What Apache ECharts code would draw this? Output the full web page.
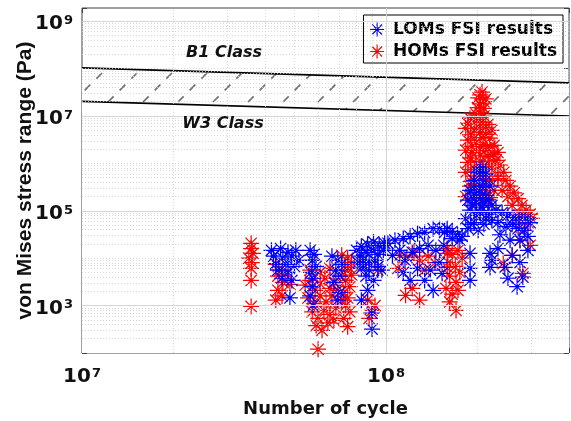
<!DOCTYPE html>
<html><head><meta charset="utf-8">
<script src="https://cdn.jsdelivr.net/npm/echarts@6/dist/echarts.min.js"></script>
<style>html,body{margin:0;padding:0;background:#fff}#c{width:571px;height:421px}</style>
</head><body><div id="c"></div>
<script>
// ---- data (Number of cycle, von Mises stress range in Pa) ----
const lomsData = [
[4.2e7,1.47e4],[4.5e7,1.6e4],[4.76e7,1.33e4],[5.05e7,1.47e4],[4.27e7,1.1e4],[4.58e7,1.0e4],[4.9e7,1.1e4],[5.17e7,9.0e3],[4.34e7,7.7e3],[4.69e7,7.4e3],[5.0e7,6.7e3],[4.41e7,5.6e3],[4.76e7,5.0e3],[4.55e7,3.8e3],[4.9e7,3.4e3],[4.83e7,1.45e3],
[5.63e7,1.47e4],[5.8e7,1.2e4],[5.72e7,9.0e3],[5.89e7,6.7e3],[5.67e7,5.0e3],[5.76e7,3.8e3],[5.72e7,2.5e3],[5.63e7,1.6e3],[5.76e7,1.0e3],
[6.64e7,1.1e4],[6.94e7,9.0e3],[7.15e7,7.4e3],[6.84e7,5.6e3],[7.05e7,4.2e3],[6.74e7,3.1e3],[7.05e7,1.9e3],[6.94e7,1.3e3],
[8.0e7,1.47e4],[8.3e7,1.78e4],[8.7e7,1.97e4],[9.1e7,2.2e4],[9.5e7,1.87e4],[8.2e7,1.1e4],[8.6e7,1.33e4],[9.0e7,1.47e4],[9.4e7,1.2e4],[9.8e7,1.47e4],[8.1e7,8.1e3],[8.4e7,9.0e3],[8.8e7,8.1e3],[9.2e7,9.0e3],[8.3e7,6.1e3],[8.8e7,5.6e3],[9.4e7,6.7e3],[8.6e7,4.2e3],[9.1e7,3.4e3],[9.7e7,5.6e3],[9.9e7,2.06e4],[8.3e7,1.3e3],[9.0e7,6.9e2],[9.0e7,3.2e2],[8.7e7,2.1e3],
[1.015e8,2.06e4],[1.07e8,2.4e4],[1.14e8,2.6e4],[1.2e8,2.9e4],[1.27e8,3.3e4],[1.34e8,3.5e4],[1.43e8,4.2e4],[1.5e8,4.2e4],[1.56e8,3.5e4],[1.65e8,3.7e4],[1.72e8,3.1e4],[1.78e8,2.9e4],[1.05e8,1.15e4],[1.11e8,1.47e4],[1.155e8,9.0e3],[1.22e8,1.33e4],[1.29e8,1.6e4],[1.375e8,1.87e4],[1.14e8,5.0e3],[1.27e8,6.1e3],[1.43e8,2.1e3],[1.34e8,3.4e3],[1.5e8,8.1e3],[1.2e8,3.4e3],[1.46e8,1.47e4],[1.55e8,1.87e4],[1.4e8,5.6e3],[1.53e8,4.8e3],[1.59e8,4.2e4],[1.65e8,2.6e4],[1.75e8,2.4e4],[1.89e8,3.4e3],[1.89e8,1.27e4],[1.89e8,6.1e3],
[2.07e8,8.0e5],[2.01e8,6.5e5],[2.13e8,5.9e5],[1.95e8,4.4e5],[2.1e8,4.0e5],[2.2e8,3.3e5],[1.89e8,2.7e5],[2.01e8,2.4e5],[2.13e8,2.1e5],[1.86e8,1.67e5],[1.98e8,1.5e5],[2.1e8,1.4e5],[2.23e8,1.3e5],[1.89e8,1.03e5],[2.04e8,9.2e4],[2.165e8,8.5e4],[1.83e8,6.8e4],[1.95e8,5.6e4],[2.1e8,5.2e4],[2.23e8,6.3e4],[1.86e8,4.2e4],[2.01e8,3.9e4],
[2.04e8,7.0e5],[1.95e8,3.0e5],[2.07e8,3.2e5],[1.92e8,2.0e5],[2.04e8,1.9e5],[2.17e8,1.7e5],[1.92e8,1.3e5],[2.07e8,1.2e5],[1.98e8,8.0e4],[2.13e8,7.0e4],[1.9e8,5.2e4],
[2.3e8,1.03e5],[2.41e8,9.2e4],[2.52e8,8.0e4],[2.64e8,7.2e4],[2.76e8,6.9e4],[2.89e8,6.9e4],[2.98e8,5.6e4],[2.335e8,5.6e4],[2.48e8,4.7e4],[2.6e8,5.2e4],[2.72e8,4.2e4],[2.85e8,3.9e4],[2.93e8,2.9e4],[2.37e8,3.1e4],[2.56e8,2.4e4],[2.76e8,2.4e4],[2.23e8,9.0e3],[2.46e8,6.4e3],[2.7e8,2.5e3],[2.82e8,4.0e3],[2.335e8,1.6e4],[2.6e8,1.15e4],[2.93e8,1.47e4],[2.76e8,8.1e3],[2.52e8,3.8e3],[2.2e8,1.27e4],[2.2e8,6.4e3]
];
const homsData = [
[3.6e7,2.06e4],[3.6e7,1.6e4],[3.65e7,1.27e4],[3.54e7,1.0e4],[3.62e7,8.1e3],[3.6e7,6.1e3],[3.6e7,3.4e3],[3.6e7,9.6e2],
[4.34e7,7.4e3],[4.48e7,5.6e3],[4.41e7,4.2e3],[4.58e7,3.1e3],[4.41e7,2.1e3],[4.55e7,1.6e3],[4.34e7,1.3e3],[4.69e7,5.0e3],[4.83e7,2.8e3],
[5.42e7,2.7e3],[5.63e7,3.4e3],[5.85e7,2.1e3],[6.07e7,2.9e3],[6.3e7,3.8e3],[6.54e7,2.3e3],[6.79e7,3.1e3],[7.05e7,4.2e3],[5.54e7,1.45e3],[5.8e7,1.1e3],[6.07e7,1.6e3],[6.35e7,1.2e3],[6.64e7,1.6e3],[6.94e7,2.1e3],[7.15e7,1.3e3],[5.72e7,7.4e2],[5.98e7,5.4e2],[6.25e7,7.9e2],[6.54e7,6.5e2],[6.84e7,8.8e2],[5.89e7,3.8e2],[6.44e7,4.3e2],[6.74e7,4.9e2],[6.16e7,3.0e2],[5.63e7,5.6e3],[6.07e7,5.0e3],[6.54e7,6.1e3],[5.98e7,1.2e2],
[7.15e7,1.15e4],[7.48e7,1.0e4],[7.71e7,8.1e3],[7.32e7,7.1e3],[7.6e7,6.1e3],[7.26e7,5.0e3],[7.71e7,4.4e3],[7.37e7,3.4e3],[7.6e7,2.5e3],[7.26e7,1.9e3],[7.48e7,1.45e3],[7.37e7,1.0e3],[7.6e7,7.4e2],[7.26e7,5.4e2],[7.48e7,3.6e2],
[9.0e7,7.9e2],[8.7e7,1.3e3],[9.2e7,1.0e3],[8.8e7,5.4e2],[8.5e7,7.1e3],[9.4e7,5.6e3],
[1.11e8,1.15e4],[1.17e8,1.05e4],[1.236e8,1.33e4],[1.29e8,9.0e3],[1.375e8,1.1e4],[1.16e8,1.65e3],[1.29e8,1.3e3],[1.22e8,2.3e3],[1.34e8,5.6e3],[1.45e8,8.1e3],[1.095e8,6.1e3],[1.59e8,1.27e4],[1.59e8,6.4e3],
[1.59e8,1.6e4],[1.65e8,1.2e4],[1.725e8,1.47e4],[1.78e8,1.0e4],[1.6e8,8.1e3],[1.69e8,6.7e3],[1.75e8,5.0e3],[1.62e8,4.2e3],[1.7e8,3.1e3],[1.575e8,2.3e3],[1.65e8,1.75e3],[1.725e8,2.1e3],[1.62e8,1.2e3],[1.7e8,7.9e2],
[2.07e8,3.2e7],[2.01e8,2.4e7],[2.13e8,2.3e7],[2.04e8,1.8e7],[2.1e8,1.45e7],[1.89e8,9.0e6],[1.98e8,8.1e6],[2.07e8,7.4e6],[2.165e8,6.7e6],[1.83e8,5.5e6],[1.95e8,5.0e6],[2.04e8,4.5e6],[2.13e8,4.1e6],[2.23e8,5.0e6],[1.86e8,3.1e6],[1.98e8,2.8e6],[2.1e8,2.5e6],[2.2e8,2.3e6],[1.83e8,1.9e6],[1.92e8,1.7e6],[2.04e8,1.5e6],[2.165e8,1.4e6],[2.265e8,1.55e6],[1.86e8,1.05e6],[1.98e8,9.2e5],[2.1e8,8.6e5],[2.23e8,7.9e5],[1.83e8,6.5e5],[1.95e8,5.4e5],[2.07e8,4.8e5],[2.2e8,4.4e5],[2.335e8,5.4e5],[1.89e8,3.3e5],[2.01e8,2.7e5],[2.13e8,3.0e5],[2.265e8,2.7e5],[1.83e8,2.0e5],[1.98e8,1.67e5],[2.13e8,1.8e5],
[2.04e8,2.8e7],[2.1e8,2.0e7],[2.0e8,1.5e7],[2.04e8,1.2e7],[2.1e8,1.0e7],[1.98e8,1.1e7],[1.86e8,7.0e6],[2.01e8,6.0e6],[2.13e8,5.8e6],[1.9e8,4.0e6],[2.07e8,3.5e6],[2.2e8,3.4e6],[1.92e8,2.3e6],[2.04e8,2.0e6],[2.13e8,1.9e6],[1.9e8,1.3e6],[2.04e8,1.1e6],[2.17e8,1.0e6],[1.9e8,7.5e5],[2.01e8,6.5e5],[2.13e8,6.0e5],[1.9e8,4.2e5],[2.13e8,4.5e5],[1.95e8,3.6e5],[2.07e8,2.2e5],[2.2e8,1.9e5],
[2.265e8,2.4e6],[2.335e8,1.7e6],[2.3e8,1.16e6],[2.37e8,9.2e5],[2.44e8,6.5e5],[2.335e8,4.8e5],[2.48e8,4.4e5],[2.56e8,3.3e5],[2.41e8,2.7e5],[2.64e8,2.4e5],[2.52e8,2.0e5],[2.72e8,1.8e5],[2.8e8,1.3e5],[2.6e8,1.3e5],[2.89e8,1.03e5],[2.98e8,8.5e4],[2.76e8,8.0e4],[2.93e8,5.6e4],[2.68e8,4.9e4],[2.85e8,3.9e4],[3.02e8,6.9e4],[2.43e8,7.7e3],[2.82e8,4.8e3],[2.6e8,1.15e4],[2.98e8,1.87e4],[2.76e8,2.4e4]
];
const classN = [1e7, 4e8];
const b1Stress = [1.04e8, 5.0e7];
const w3Stress = [2.04e7, 1.0e7];
const xLabelExps = [7, 8];
const yLabelExps = [3, 5, 7, 9];
const xMajorGrid = [1e8];
const xMinorGrid = [2e7,3e7,4e7,5e7,6e7,7e7,8e7,9e7,2e8,3e8];
const yMajorGrid = [1e3,1e5,1e7,1e9];
const yMinorMant = [2,3,4,5,6,7,8,9];
const yMinorDecades = [1e2,1e3,1e4,1e5,1e6,1e7,1e8];
const yMinorDecadeLines = [1e4,1e6,1e8];

// ---- styling helpers ----
const yMinorGrid = [];
yMinorDecades.forEach(d => yMinorMant.forEach(m => yMinorGrid.push(m * d)));
yMinorDecadeLines.forEach(v => yMinorGrid.push(v));

const FONT = '"DejaVu Sans", sans-serif';
const tickRich = {
  b: {fontFamily: FONT, fontWeight: 'bold', fontSize: 20, lineHeight: 20, padding: [4,0,0,0], verticalAlign: 'bottom', color: '#111'},
  s: {fontFamily: FONT, fontWeight: 'bold', fontSize: 13, lineHeight: 13, verticalAlign: 'top', color: '#111', padding: [0,0,0,1]}
};
function powLabel(v, allowed) {
  const e = Math.log10(v), r = Math.round(e);
  if (Math.abs(e - r) > 1e-6 || allowed.indexOf(r) < 0) return '';
  return '{b|10}{s|' + r + '}';
}
function hatchPattern() {
  const c = document.createElement('canvas');
  c.width = 35; c.height = 35;
  const g = c.getContext('2d');
  g.fillStyle = '#fff'; g.fillRect(0, 0, 35, 35);
  g.strokeStyle = '#707070'; g.lineWidth = 1.7;
  g.setLineDash([8, 8.5]); g.lineDashOffset = 12.25;
  g.beginPath(); g.moveTo(0, 35); g.lineTo(35, 0); g.stroke();
  return c;
}
const star = 'path://M0,5L10,5M5,0L5,10M1.46,1.46L8.54,8.54M1.46,8.54L8.54,1.46';

const gridLines = [];
xMajorGrid.forEach(v => gridLines.push({xAxis: v, lineStyle: {type: 'solid', color: '#d6d6d6', width: 1}}));
xMinorGrid.forEach(v => gridLines.push({xAxis: v, lineStyle: {type: [1, 2], color: '#cfcfcf', width: 0.8}}));
yMajorGrid.forEach(v => gridLines.push({yAxis: v, lineStyle: {type: 'solid', color: '#d6d6d6', width: 1}}));
yMinorGrid.forEach(v => gridLines.push({yAxis: v, lineStyle: {type: [1, 2], color: '#cfcfcf', width: 0.8}}));

const tickStyle = {inside: true, length: 5, lineStyle: {color: '#404040', width: 1}};
const b1Points = classN.map((n, i) => [n, b1Stress[i]]);
const w3Points = classN.map((n, i) => [n, w3Stress[i]]);
const chart = echarts.init(document.getElementById('c'), null, {renderer: 'canvas'});
chart.setOption({
  animation: false,
  backgroundColor: '#fff',
  grid: {left: 82, right: 2, top: 8, bottom: 68, show: true, borderColor: '#404040', borderWidth: 1,
         backgroundColor: 'transparent', containLabel: false, outerBoundsMode: 'none'},
  legend: {
    data: ['LOMs FSI results', 'HOMs FSI results'],
    orient: 'vertical', right: 8, top: 15,
    backgroundColor: '#fff', borderColor: '#000', borderWidth: 1,
    padding: [6, 6, 3, 6], itemGap: 5, itemWidth: 22, itemHeight: 14,
    selectedMode: false,
    itemStyle: {borderWidth: 1.2},
    textStyle: {fontFamily: FONT, fontWeight: 'bold', fontSize: 17, color: '#000', padding: [0,0,0,0]}
  },
  xAxis: [{
    type: 'log', logBase: 10, min: 1e7, max: 4e8, position: 'bottom',
    axisLine: {show: false}, axisTick: tickStyle, splitLine: {show: false},
    axisLabel: {margin: 14, formatter: v => powLabel(v, xLabelExps), rich: tickRich},
    name: 'Number of cycle', nameLocation: 'middle', nameGap: 47, nameMoveOverlap: false,
    nameTextStyle: {fontFamily: FONT, fontWeight: 'bold', fontSize: 18, color: '#111'}
  }, {
    type: 'log', logBase: 10, min: 1e7, max: 4e8, position: 'top',
    axisLine: {show: false}, axisTick: tickStyle, splitLine: {show: false}, axisLabel: {show: false}
  }],
  yAxis: [{
    type: 'log', logBase: 10, min: 1e2, max: 1.9e9, position: 'left',
    axisLine: {show: false}, axisTick: tickStyle, splitLine: {show: false},
    axisLabel: {margin: 9, padding: [6,0,0,0], formatter: v => powLabel(v, yLabelExps), rich: tickRich},
    name: 'von Mises stress range (Pa)', nameLocation: 'middle', nameGap: 46, nameMoveOverlap: false,
    nameTextStyle: {fontFamily: '"Liberation Sans", Arial, sans-serif', fontWeight: 'bold', fontSize: 21, color: '#111'}
  }, {
    type: 'log', logBase: 10, min: 1e2, max: 1.9e9, position: 'right',
    axisLine: {show: false}, axisTick: tickStyle, splitLine: {show: false}, axisLabel: {show: false}
  }],
  graphic: [
    {type: 'text', x: 224, y: 53, z: 10, style: {text: 'B1 Class', font: 'italic bold 16px "DejaVu Sans"', fill: '#111', align: 'center', verticalAlign: 'middle'}},
    {type: 'text', x: 223, y: 124, z: 10, style: {text: 'W3 Class', font: 'italic bold 16px "DejaVu Sans"', fill: '#111', align: 'center', verticalAlign: 'middle'}}
  ],
  series: [
    {
      type: 'line', name: 'B1 band', data: b1Points, symbol: 'none', z: 1, silent: true,
      lineStyle: {width: 0},
      areaStyle: {origin: 'start', color: {image: hatchPattern(), repeat: 'repeat'}, opacity: 1}
    },
    {
      type: 'line', name: 'W3 band', data: w3Points, symbol: 'none', z: 1, silent: true,
      lineStyle: {width: 0},
      areaStyle: {origin: 'start', color: '#ffffff', opacity: 1}
    },
    {
      type: 'line', name: 'grid', data: [], z: 2, silent: true,
      markLine: {silent: true, symbol: ['none', 'none'], label: {show: false}, animation: false, data: gridLines}
    },
    {
      type: 'line', name: 'W3 Class', data: w3Points, symbol: 'none', z: 2, silent: true,
      lineStyle: {color: '#000', width: 1.7}
    },
    {
      type: 'line', name: 'B1 Class', data: b1Points, symbol: 'none', z: 2, silent: true,
      lineStyle: {color: '#000', width: 1.7}
    },
    {
      type: 'scatter', name: 'HOMs FSI results', data: homsData, z: 3,
      symbol: star, symbolSize: 16,
      itemStyle: {color: '#ff0000', borderColor: '#ff0000', borderWidth: 1.25, opacity: 1}
    },
    {
      type: 'scatter', name: 'LOMs FSI results', data: lomsData, z: 3,
      symbol: star, symbolSize: 16,
      itemStyle: {color: '#0000ff', borderColor: '#0000ff', borderWidth: 1.25, opacity: 1}
    }
  ]
});
</script>
</body></html>
